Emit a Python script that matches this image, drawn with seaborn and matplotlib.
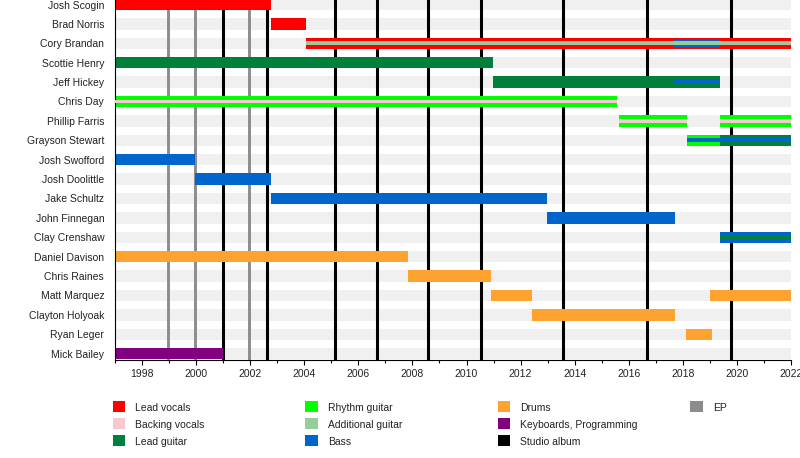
import matplotlib
matplotlib.use("Agg")
import matplotlib.pyplot as plt
from matplotlib.patches import Rectangle
import seaborn as sns
import pandas as pd

################################# data #####################################

members = ["Josh Scogin", "Brad Norris", "Cory Brandan", "Scottie Henry",
           "Jeff Hickey", "Chris Day", "Phillip Farris", "Grayson Stewart",
           "Josh Swofford", "Josh Doolittle", "Jake Schultz", "John Finnegan",
           "Clay Crenshaw", "Daniel Davison", "Chris Raines", "Matt Marquez",
           "Clayton Holyoak", "Ryan Leger", "Mick Bailey"]

# main role of each spell: (member, start, end, role)
main_spells = [
    ("Josh Scogin", 1997.0, 2002.76, "Lead vocals"),
    ("Brad Norris", 2002.76, 2004.07, "Lead vocals"),
    ("Cory Brandan", 2004.07, 2022.0, "Lead vocals"),
    ("Scottie Henry", 1997.0, 2010.98, "Lead guitar"),
    ("Jeff Hickey", 2010.98, 2019.4, "Lead guitar"),
    ("Chris Day", 1997.0, 2015.58, "Rhythm guitar"),
    ("Phillip Farris", 2015.63, 2018.16, "Rhythm guitar"),
    ("Phillip Farris", 2019.37, 2022.0, "Rhythm guitar"),
    ("Grayson Stewart", 2018.16, 2019.37, "Rhythm guitar"),
    ("Grayson Stewart", 2019.37, 2022.0, "Lead guitar"),
    ("Josh Swofford", 1997.0, 1999.96, "Bass"),
    ("Josh Doolittle", 1999.96, 2002.76, "Bass"),
    ("Jake Schultz", 2002.76, 2012.99, "Bass"),
    ("John Finnegan", 2012.99, 2017.73, "Bass"),
    ("Clay Crenshaw", 2019.37, 2022.0, "Bass"),
    ("Daniel Davison", 1997.0, 2007.84, "Drums"),
    ("Chris Raines", 2007.84, 2010.92, "Drums"),
    ("Matt Marquez", 2010.92, 2012.43, "Drums"),
    ("Matt Marquez", 2019.03, 2022.0, "Drums"),
    ("Clayton Holyoak", 2012.43, 2017.72, "Drums"),
    ("Ryan Leger", 2018.14, 2019.07, "Drums"),
    ("Mick Bailey", 1997.0, 2001.0, "Keyboards, Programming"),
]

# secondary roles drawn as stripes inside the bars
wide_stripes = [
    ("Cory Brandan", 2017.69, 2019.37, "Bass"),
]
thin_stripes = [
    ("Cory Brandan", 2004.07, 2022.0, "Additional guitar"),
    ("Jeff Hickey", 2017.69, 2019.4, "Bass"),
    ("Chris Day", 1997.0, 2015.58, "Backing vocals"),
    ("Phillip Farris", 2015.63, 2018.16, "Backing vocals"),
    ("Phillip Farris", 2019.37, 2022.0, "Backing vocals"),
    ("Grayson Stewart", 2018.16, 2022.0, "Bass"),
    ("Clay Crenshaw", 2019.37, 2022.0, "Lead guitar"),
]

ep_releases = [1998.96, 1999.96, 2001.96]
studio_albums = [2001.0, 2002.6, 2005.14, 2006.68, 2008.56, 2010.52,
                 2013.59, 2016.67, 2019.78]

legend_labels = ["Lead vocals", "Backing vocals", "Lead guitar",
                 "Rhythm guitar", "Additional guitar", "Bass",
                 "Drums", "Keyboards, Programming", "Studio album", "EP"]

colors = {
    "Lead vocals": "#ff0000",
    "Backing vocals": "#f8c8d0",
    "Lead guitar": "#00803a",
    "Rhythm guitar": "#00ff00",
    "Additional guitar": "#99cc99",
    "Bass": "#0066cc",
    "Drums": "#ffa330",
    "Keyboards, Programming": "#800080",
    "Studio album": "#000000",
    "EP": "#8c8c8c",
}

x_start, x_end = 1997, 2022

################################# plot #####################################

sns.set_style("white")
plt.rcParams["font.family"] = ["Liberation Sans", "DejaVu Sans"]

W, H = 800, 458
fig = plt.figure(figsize=(W / 100, H / 100), dpi=100)
ax = fig.add_axes([115.3 / W, 98 / H, 675.4 / W, 360 / H])

row = {name: i for i, name in enumerate(members)}
bar_h = 0.58


def draw(spells, height, z):
    df = pd.DataFrame(spells, columns=["member", "start", "end", "role"])
    ax.barh(df["member"].map(row), df["end"] - df["start"], left=df["start"],
            height=height, color=df["role"].map(colors), linewidth=0, zorder=z)


# light background bands per row
ax.barh(range(len(members)), x_end - x_start, left=x_start, height=bar_h,
        color="#f0f0f0", linewidth=0, zorder=0)

for x in ep_releases:
    ax.axvline(x, color=colors["EP"], lw=2.1, zorder=1)
for x in studio_albums:
    ax.axvline(x, color=colors["Studio album"], lw=2.2, zorder=1)

draw(main_spells, bar_h, 2)
draw(wide_stripes, 0.36, 3)
draw(thin_stripes, 0.19, 4)

ax.set_xlim(x_start, x_end)
ax.set_ylim(18.325, -0.232)
ax.set_yticks(range(len(members)))
ax.set_yticklabels(members, fontsize=7.5, color="#222222")
ax.set_xticks(range(1998, 2023, 2))
ax.set_xticks(range(1997, 2023, 2), minor=True)
ax.set_xticklabels([str(y) for y in range(1998, 2023, 2)], fontsize=7.5,
                   color="#222222")
ax.tick_params(axis="y", length=0, pad=8)
ax.tick_params(axis="x", which="major", length=3.6, width=0.8, pad=3.2,
               color="black", bottom=True)
ax.tick_params(axis="x", which="minor", length=1.8, width=0.8,
               color="black", bottom=True)
sns.despine(ax=ax, top=True, right=True)
for side in ["left", "bottom"]:
    ax.spines[side].set_color("black")
    ax.spines[side].set_linewidth(0.8)
ax.grid(False)

# legend, three entries per column
for k, label in enumerate(legend_labels):
    col, r = divmod(k, 3)
    x0 = 112.7 + col * 192.5
    yc = 406.7 + r * 17
    fig.add_artist(Rectangle((x0 / W, 1 - (yc + 5.6) / H), 12.5 / W, 11.3 / H,
                             transform=fig.transFigure,
                             color=colors[label], linewidth=0))
    fig.text((x0 + 22.5) / W, 1 - (yc + 1) / H, label, fontsize=7.5,
             va="center", ha="left", color="#222222")

fig.savefig("out.png", dpi=100)
